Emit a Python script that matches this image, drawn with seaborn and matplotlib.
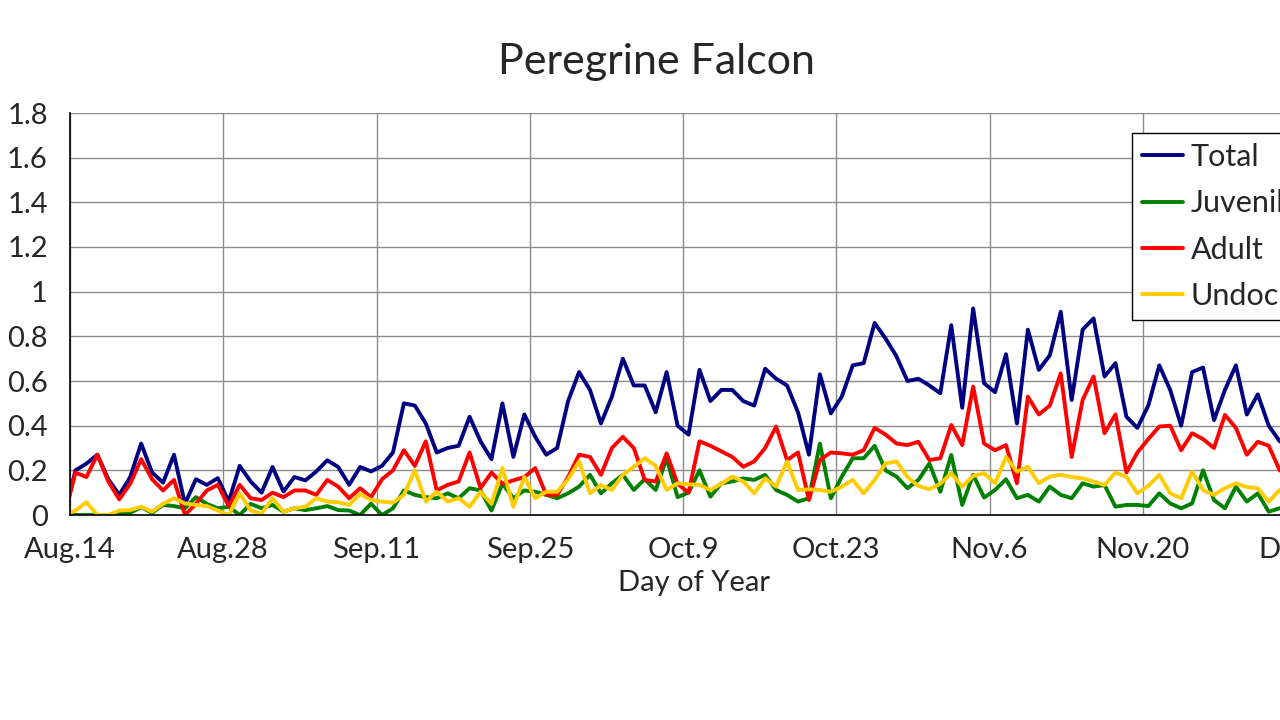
import numpy as np
import pandas as pd
import matplotlib
matplotlib.use("Agg")
import matplotlib.pyplot as plt
import seaborn as sns

# -----------------------------
# data (one value per day, noon, starting Aug 13)
# -----------------------------
total = [
    0.00, 0.20, 0.23, 0.27, 0.16, 0.09, 0.17, 0.32, 0.19, 0.145,
    0.27, 0.05, 0.16, 0.135, 0.165, 0.06, 0.22, 0.15, 0.10, 0.215,
    0.105, 0.17, 0.155, 0.195, 0.245, 0.215, 0.135, 0.215, 0.195, 0.22,
    0.28, 0.50, 0.49, 0.41, 0.28, 0.30, 0.31, 0.44, 0.33, 0.25,
    0.50, 0.26, 0.45, 0.35, 0.27, 0.30, 0.51, 0.64, 0.56, 0.41,
    0.53, 0.70, 0.58, 0.58, 0.46, 0.64, 0.40, 0.36, 0.65, 0.51,
    0.56, 0.56, 0.51, 0.49, 0.655, 0.61, 0.58, 0.46, 0.27, 0.63,
    0.455, 0.53, 0.67, 0.68, 0.86, 0.79, 0.71, 0.60, 0.61, 0.58,
    0.545, 0.85, 0.48, 0.925, 0.59, 0.55, 0.72, 0.41, 0.83, 0.65,
    0.715, 0.91, 0.515, 0.83, 0.88, 0.62, 0.68, 0.44, 0.39, 0.49,
    0.67, 0.56, 0.40, 0.64, 0.66, 0.425, 0.56, 0.67, 0.45, 0.54,
    0.40, 0.33, 0.33,
]
juvenile = [
    0.00, 0.00, 0.00, 0.00, 0.00, 0.005, 0.01, 0.035, 0.01, 0.045,
    0.04, 0.03, 0.08, 0.05, 0.03, 0.037, 0.00, 0.05, 0.03, 0.045,
    0.015, 0.03, 0.022, 0.03, 0.04, 0.022, 0.02, 0.00, 0.05, 0.00,
    0.03, 0.11, 0.09, 0.08, 0.075, 0.097, 0.075, 0.12, 0.11, 0.02,
    0.14, 0.075, 0.11, 0.104, 0.09, 0.075, 0.097, 0.127, 0.18, 0.097,
    0.142, 0.18, 0.112, 0.16, 0.112, 0.254, 0.08, 0.10, 0.20, 0.082,
    0.142, 0.15, 0.164, 0.157, 0.18, 0.112, 0.09, 0.06, 0.075, 0.32,
    0.075, 0.172, 0.254, 0.254, 0.31, 0.20, 0.172, 0.12, 0.157, 0.231,
    0.104, 0.269, 0.045, 0.18, 0.078, 0.112, 0.16, 0.075, 0.09, 0.06,
    0.127, 0.09, 0.075, 0.142, 0.127, 0.134, 0.037, 0.045, 0.045, 0.04,
    0.097, 0.052, 0.03, 0.052, 0.20, 0.067, 0.03, 0.127, 0.06, 0.097,
    0.015, 0.03, 0.05,
]
adult = [
    0.00, 0.19, 0.17, 0.27, 0.15, 0.07, 0.14, 0.25, 0.16, 0.11,
    0.157, 0.00, 0.05, 0.11, 0.135, 0.04, 0.135, 0.075, 0.067, 0.10,
    0.08, 0.11, 0.11, 0.09, 0.157, 0.127, 0.075, 0.12, 0.08, 0.16,
    0.20, 0.29, 0.22, 0.33, 0.11, 0.135, 0.15, 0.28, 0.12, 0.19,
    0.14, 0.155, 0.17, 0.21, 0.09, 0.09, 0.17, 0.27, 0.26, 0.18,
    0.30, 0.35, 0.30, 0.157, 0.15, 0.276, 0.14, 0.10, 0.33, 0.31,
    0.285, 0.26, 0.216, 0.24, 0.30, 0.396, 0.246, 0.28, 0.067, 0.246,
    0.28, 0.276, 0.27, 0.29, 0.39, 0.36, 0.32, 0.313, 0.328, 0.246,
    0.254, 0.403, 0.313, 0.575, 0.32, 0.29, 0.313, 0.142, 0.53, 0.45,
    0.49, 0.634, 0.26, 0.515, 0.62, 0.366, 0.45, 0.19, 0.28, 0.34,
    0.396, 0.40, 0.29, 0.366, 0.34, 0.30, 0.448, 0.39, 0.27, 0.328,
    0.31, 0.20, 0.18,
]
undoc = [
    0.00, 0.02, 0.057, 0.00, 0.00, 0.02, 0.022, 0.037, 0.015, 0.05,
    0.075, 0.052, 0.045, 0.04, 0.02, 0.00, 0.097, 0.02, 0.007, 0.075,
    0.015, 0.03, 0.037, 0.075, 0.06, 0.057, 0.045, 0.094, 0.067, 0.06,
    0.055, 0.09, 0.20, 0.06, 0.104, 0.06, 0.075, 0.037, 0.104, 0.05,
    0.21, 0.037, 0.17, 0.075, 0.104, 0.104, 0.16, 0.24, 0.097, 0.134,
    0.112, 0.18, 0.216, 0.254, 0.22, 0.112, 0.142, 0.137, 0.135, 0.112,
    0.14, 0.172, 0.15, 0.097, 0.164, 0.127, 0.24, 0.112, 0.115, 0.112,
    0.104, 0.127, 0.157, 0.097, 0.157, 0.231, 0.24, 0.17, 0.13, 0.115,
    0.14, 0.187, 0.127, 0.175, 0.187, 0.142, 0.26, 0.194, 0.216, 0.142,
    0.172, 0.18, 0.17, 0.164, 0.15, 0.134, 0.19, 0.17, 0.097, 0.13,
    0.18, 0.097, 0.075, 0.194, 0.112, 0.09, 0.12, 0.142, 0.125, 0.12,
    0.06, 0.112, 0.12,
]

series_names = ["Total", "Juvenile", "Adult", "Undoc"]
series_colors = ["#000080", "#008000", "#FF0000", "#FFCC00"]

dates = pd.date_range("2012-08-13 12:00", periods=len(total), freq="D")

df = pd.DataFrame({"Date": dates, "Total": total, "Juvenile": juvenile,
                   "Adult": adult, "Undoc": undoc})
long_df = df.melt(id_vars="Date", var_name="Series", value_name="Rate")

# -----------------------------
# plot
# -----------------------------
sns.set_style("white")
plt.rcParams["font.family"] = ["Lato", "DejaVu Sans"]

fig = plt.figure(figsize=(12.8, 7.2), dpi=100)
ax = fig.add_axes([70 / 1280, 205 / 720, 1248 / 1280, 402 / 720])

sns.lineplot(data=long_df, x="Date", y="Rate", hue="Series",
             hue_order=series_names, palette=series_colors,
             linewidth=2.8, sort=False, estimator=None, ax=ax, legend=False)

x_start = pd.Timestamp("2012-08-14")
x_end = pd.Timestamp("2012-12-06")
ax.set_xlim(x_start, x_end)
ax.set_ylim(0, 1.8)

major = pd.date_range("2012-08-14", "2012-12-04", freq="14D")
minor = pd.date_range("2012-08-21", "2012-12-04", freq="14D")
ax.set_xticks(major)
ax.set_xticklabels([f"{d:%b}.{d.day}" for d in major])
ax.set_xticks(minor, minor=True)

yticks = np.arange(0, 1.81, 0.2)
ax.set_yticks(yticks)
ax.set_yticklabels([f"{v:g}" for v in np.round(yticks, 1)])

ax.grid(True, which="major", color="#8c8c8c", linewidth=1.0)
ax.set_axisbelow(True)
for side in ["top", "right"]:
    ax.spines[side].set_visible(False)
for side in ["left", "bottom"]:
    ax.spines[side].set_color("black")
    ax.spines[side].set_linewidth(1.2)

ax.tick_params(axis="both", which="both", direction="out", length=7,
               width=1.2, color="black", labelsize=21)
ax.tick_params(axis="y", pad=9)
ax.tick_params(axis="x", pad=9)

ax.set_xlabel("Day of Year", fontsize=21, labelpad=5)
ax.set_ylabel("")

fig.text(657 / 1280, 1 - 74 / 720, "Peregrine Falcon", fontsize=31,
         ha="center", va="baseline")

handles = [plt.Line2D([], [], color=c, linewidth=2.8) for c in series_colors]
leg = ax.legend(handles, series_names, loc="upper left",
                bbox_to_anchor=(1132 / 1280, 1 - 133 / 720),
                bbox_transform=fig.transFigure, borderaxespad=0,
                fontsize=22, frameon=True, fancybox=False, framealpha=1,
                edgecolor="black", handlelength=1.35, handletextpad=0.25,
                labelspacing=0.6, borderpad=0.33)
leg.get_frame().set_linewidth(1.0)

fig.savefig("out.png", dpi=100)
